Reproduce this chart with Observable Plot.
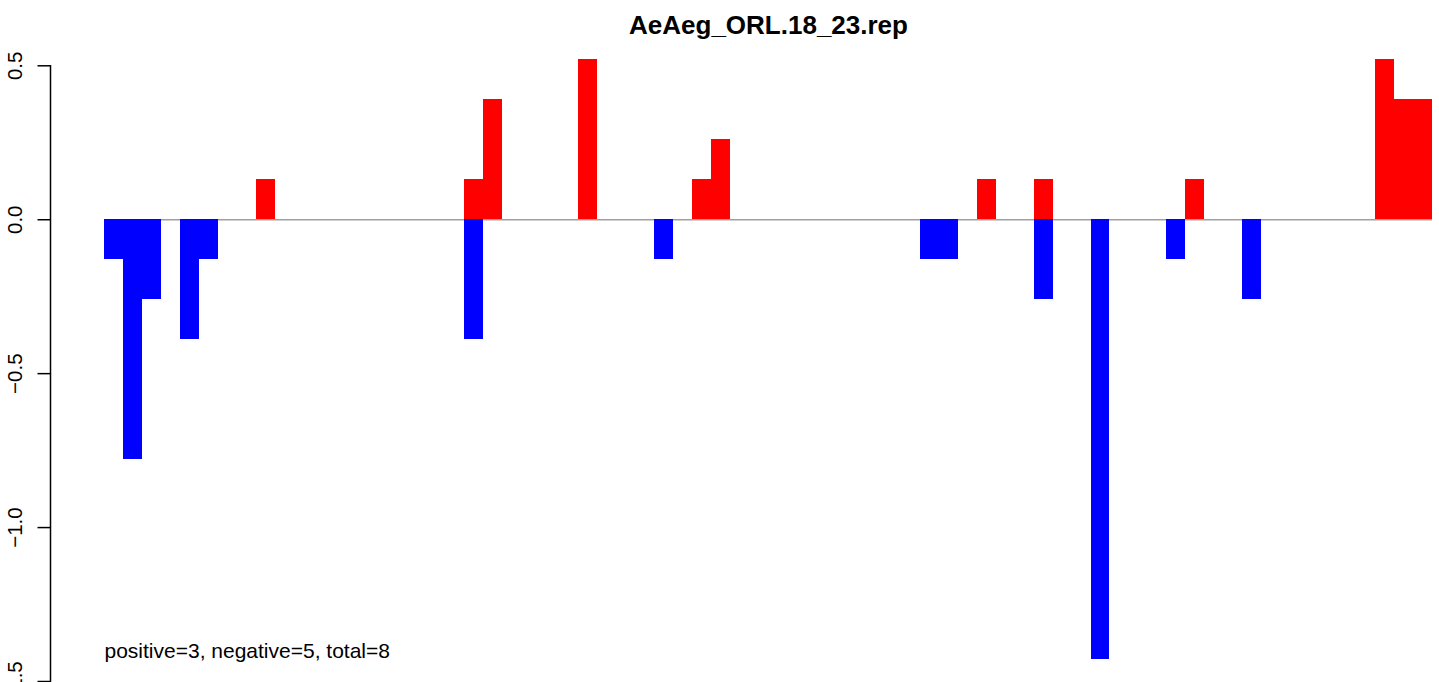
<!DOCTYPE html>
<html>
<head>
<meta charset="utf-8">
<script src="https://cdn.jsdelivr.net/npm/d3@7"></script>
<script src="https://cdn.jsdelivr.net/npm/@observablehq/plot@0.6"></script>
<style>
  html, body { margin: 0; padding: 0; background: #fff; overflow: hidden; }
  svg { overflow: visible; }
</style>
</head>
<body>
<div id="chart"></div>
<script>
const title = "AeAeg_ORL.18_23.rep";
const caption = "positive=3, negative=5, total=8";
const slotCount = 70;

const upIdx = [8, 19, 20, 25, 31, 32, 46, 49, 57, 67, 68, 69];
const upVal = [0.13, 0.13, 0.39, 0.52, 0.13, 0.26, 0.13, 0.13, 0.13, 0.52, 0.39, 0.39];

const downIdx = [0, 1, 2, 4, 5, 19, 29, 43, 44, 49, 52, 56, 60];
const downVal = [-0.13, -0.78, -0.26, -0.39, -0.13, -0.39, -0.13, -0.13, -0.13, -0.26, -1.43, -0.13, -0.26];

const yTicks = [-1.5, -1.0, -0.5, 0.0, 0.5];
const yTickLabels = ["−1.5", "−1.0", "−0.5", "0.0", "0.5"];

const up = upIdx.map((i, k) => ({i, v: upVal[k]}));
const down = downIdx.map((i, k) => ({i, v: downVal[k]}));
const tickRows = yTicks.map((t, k) => ({t, label: yTickLabels[k]}));

const font = "'Liberation Sans', Arial, Helvetica, sans-serif";

const chart = Plot.plot({
  width: 1439,
  height: 682,
  marginLeft: 104,
  marginRight: 7,
  marginTop: 65.3,
  marginBottom: 1,
  style: {fontFamily: font, background: "white", overflow: "visible"},
  x: {domain: [0, slotCount], axis: null},
  y: {domain: [-1.5, 0.5], axis: null},
  marks: [
    Plot.ruleY([0], {x1: 0, x2: slotCount, stroke: "#a0a0a0", strokeWidth: 1.5}),
    Plot.rectY(down, {x1: d => d.i, x2: d => d.i + 1, y1: 0, y2: d => d.v, fill: "#0000ff", shapeRendering: "crispEdges"}),
    Plot.rectY(up, {x1: d => d.i, x2: d => d.i + 1, y1: 0, y2: d => d.v, fill: "#ff0000", shapeRendering: "crispEdges"}),
    Plot.frame({anchor: "left", dx: -54, stroke: "black", strokeWidth: 1.5}),
    Plot.axisY({ticks: yTicks, tickSize: 12.5, tickFormat: () => "", dx: -54, stroke: "black", strokeWidth: 1.5, label: null}),
    Plot.text(tickRows, {y: "t", text: "label", frameAnchor: "left", dx: -83, rotate: -90, textAnchor: "middle", lineAnchor: "bottom", fontSize: 20.5, fill: "black"}),
    Plot.text([title], {frameAnchor: "top", dy: -32.3, lineAnchor: "bottom", textAnchor: "middle", fontSize: 26, fontWeight: "bold", fill: "black"}),
    Plot.text([caption], {frameAnchor: "bottom-left", dy: -24, lineAnchor: "bottom", textAnchor: "start", fontSize: 21, fill: "black"})
  ]
});
document.getElementById("chart").appendChild(chart);
</script>
</body>
</html>
